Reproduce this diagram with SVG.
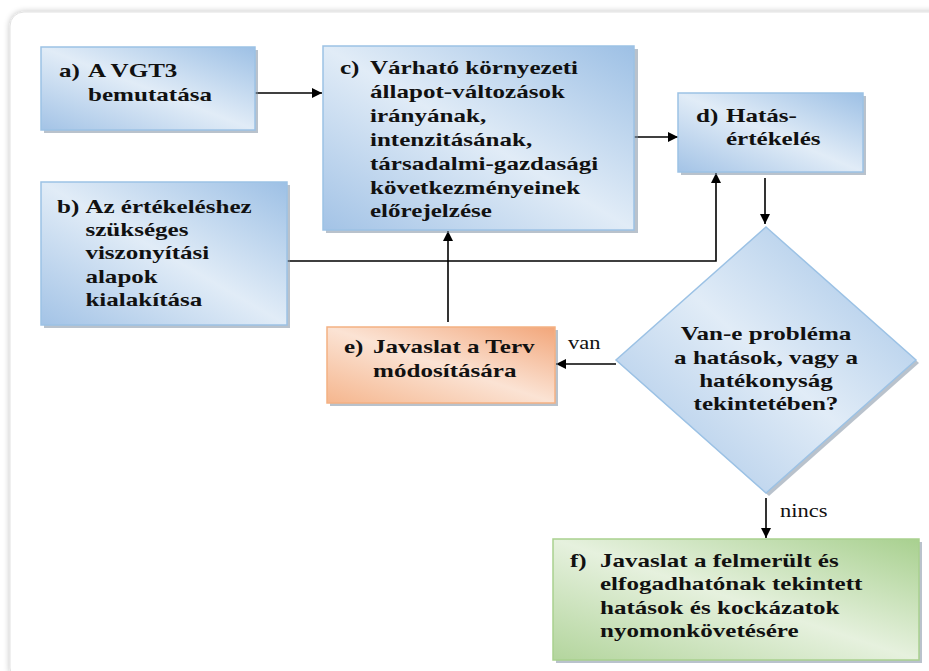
<svg xmlns="http://www.w3.org/2000/svg" width="929" height="671" viewBox="0 0 929 671">
<defs>
<linearGradient id="gBlue" x1="0" y1="1" x2="1" y2="0">
<stop offset="0" stop-color="#a3c3e6"/>
<stop offset="0.5" stop-color="#e1ecf7"/>
<stop offset="1" stop-color="#9dc0e5"/>
</linearGradient>
<linearGradient id="gOrange" x1="0" y1="1" x2="1" y2="0">
<stop offset="0" stop-color="#f5b68e"/>
<stop offset="0.5" stop-color="#fbe3d4"/>
<stop offset="1" stop-color="#f2a67a"/>
</linearGradient>
<linearGradient id="gGreen" x1="0" y1="1" x2="1" y2="0">
<stop offset="0" stop-color="#b3d59d"/>
<stop offset="0.5" stop-color="#e6f1de"/>
<stop offset="1" stop-color="#a8d08f"/>
</linearGradient>
<filter id="panelShadow" x="-5%" y="-5%" width="110%" height="110%">
<feGaussianBlur in="SourceAlpha" stdDeviation="3"/>
<feComponentTransfer><feFuncA type="linear" slope="0.25"/></feComponentTransfer>
<feMerge><feMergeNode/><feMergeNode in="SourceGraphic"/></feMerge>
</filter>
<marker id="arr" viewBox="0 0 10 10" refX="10" refY="5" markerWidth="10" markerHeight="10" markerUnits="userSpaceOnUse" orient="auto">
<path d="M0,0 L10,5 L0,10 z" fill="#000"/>
</marker>
</defs>
<style>
.txt { font-family: "Liberation Serif", "Times New Roman", serif; font-weight: bold; font-size: 19px; fill: #111; }
.lbl { font-family: "Liberation Serif", "Times New Roman", serif; font-size: 18px; fill: #111; }
.shadow { fill: #7f8fa3; opacity: 0.55; }
.blue { fill: url(#gBlue); stroke: #9cc2e5; stroke-width: 1.5; }
.orange { fill: url(#gOrange); stroke: #f4b183; stroke-width: 1.5; }
.green { fill: url(#gGreen); stroke: #a9d18e; stroke-width: 1.5; }
.conn { stroke: #000; stroke-width: 1.6; fill: none; }
</style>
<rect x="0" y="0" width="929" height="671" fill="#ffffff"/>
<rect x="10" y="12" width="945" height="670" rx="14" fill="#ffffff" stroke="#e2e2e2" stroke-width="1" filter="url(#panelShadow)"/>

<g id="connectors">
<line class="conn" x1="255" y1="93" x2="322" y2="93" marker-end="url(#arr)"/>
<line class="conn" x1="634" y1="137" x2="678" y2="137" marker-end="url(#arr)"/>
<polyline class="conn" stroke="#333" points="287,261 716,261 716,173" marker-end="url(#arr)"/>
<line class="conn" x1="448" y1="322" x2="448" y2="231" marker-end="url(#arr)"/>
<line class="conn" x1="765" y1="178" x2="765" y2="224" marker-end="url(#arr)"/>
<line class="conn" x1="616" y1="364" x2="556" y2="364" marker-end="url(#arr)"/>
<text class="lbl" transform="matrix(1.25 0 0 1 568 0)" x="0" y="349">van</text>
<line class="conn" x1="766" y1="498" x2="766" y2="538" marker-end="url(#arr)"/>
<text class="lbl" transform="matrix(1.25 0 0 1 780 0)" x="0" y="517">nincs</text>
</g>

<g id="node-a">
<rect class="shadow" x="44" y="50" width="214" height="83"/>
<rect class="blue" x="41" y="47" width="214" height="83"/>
<text class="txt" transform="matrix(1.32 0 0 1 59 0)"><tspan x="0" y="77">a)</tspan><tspan x="22" y="77">A VGT3</tspan><tspan x="22" y="101">bemutatása</tspan></text>
</g>

<g id="node-b">
<rect class="shadow" x="44" y="185" width="246" height="143"/>
<rect class="blue" x="41" y="182" width="246" height="143"/>
<text class="txt" transform="matrix(1.32 0 0 1 57 0)"><tspan x="0" y="213">b)</tspan><tspan x="21.5" y="213">Az értékeléshez</tspan><tspan x="21.5" y="236">szükséges</tspan><tspan x="21.5" y="259">viszonyítási</tspan><tspan x="21.5" y="283">alapok</tspan><tspan x="21.5" y="306">kialakítása</tspan></text>
</g>

<g id="node-c">
<rect class="shadow" x="326" y="49" width="312" height="184"/>
<rect class="blue" x="323" y="46" width="311" height="184"/>
<text class="txt" transform="matrix(1.32 0 0 1 340 0)"><tspan x="0" y="74">c)</tspan><tspan x="22.7" y="74">Várható környezeti</tspan><tspan x="22.7" y="98">állapot-változások</tspan><tspan x="22.7" y="122">irányának,</tspan><tspan x="22.7" y="146">intenzitásának,</tspan><tspan x="22.7" y="170">társadalmi-gazdasági</tspan><tspan x="22.7" y="194">következményeinek</tspan><tspan x="22.7" y="217">előrejelzése</tspan></text>
</g>

<g id="node-d">
<rect class="shadow" x="681" y="96" width="185" height="79"/>
<rect class="blue" x="678" y="93" width="185" height="79"/>
<text class="txt" transform="matrix(1.32 0 0 1 696 0)"><tspan x="0" y="122">d)</tspan><tspan x="22.7" y="122">Hatás-</tspan><tspan x="22.7" y="145">értékelés</tspan></text>
</g>

<g id="node-e">
<rect class="shadow" x="330" y="330" width="228" height="76"/>
<rect class="orange" x="327" y="327" width="228" height="76"/>
<text class="txt" transform="matrix(1.32 0 0 1 344 0)"><tspan x="0" y="353">e)</tspan><tspan x="22" y="353">Javaslat a Terv</tspan><tspan x="22" y="377">módosítására</tspan></text>
</g>

<g id="node-diamond">
<polygon class="shadow" points="769,230 919,363 769,496 619,363"/>
<polygon class="blue" points="766,227 916,360 766,493 616,360"/>
<text class="txt" text-anchor="middle" transform="matrix(1.32 0 0 1 766 0)"><tspan x="0" y="340">Van-e probléma</tspan><tspan x="0" y="364">a hatások, vagy a</tspan><tspan x="0" y="387">hatékonyság</tspan><tspan x="0" y="410">tekintetében?</tspan></text>
</g>

<g id="node-f">
<rect class="shadow" x="556" y="542" width="366" height="121"/>
<rect class="green" x="553" y="539" width="366" height="121"/>
<text class="txt" transform="matrix(1.32 0 0 1 570 0)"><tspan x="0" y="567">f)</tspan><tspan x="22.7" y="567">Javaslat a felmerült és</tspan><tspan x="22.7" y="590">elfogadhatónak tekintett</tspan><tspan x="22.7" y="614">hatások és kockázatok</tspan><tspan x="22.7" y="637">nyomonkövetésére</tspan></text>
</g>
</svg>
